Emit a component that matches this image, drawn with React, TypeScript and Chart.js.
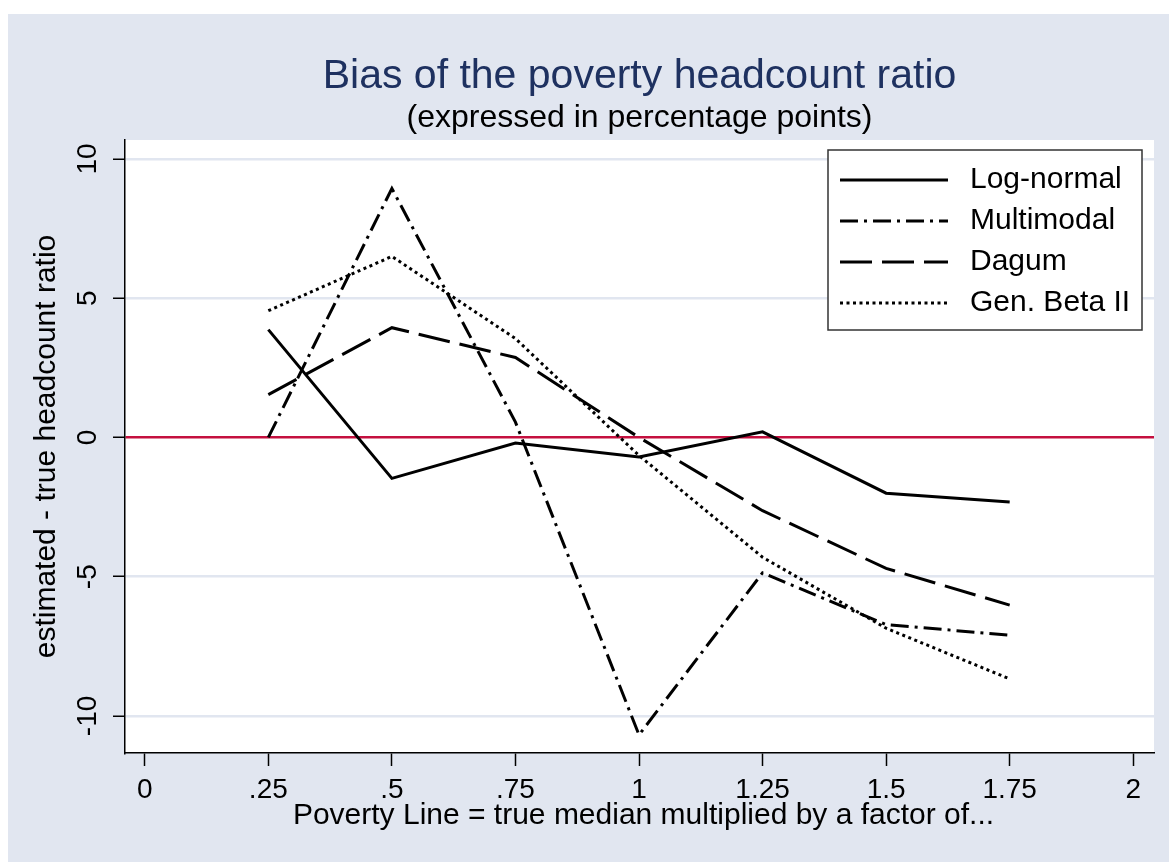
import React, { useEffect, useRef } from "react";
import { Chart, registerables } from "chart.js";

Chart.register(...registerables);

// ---------- data ----------
const titleText = "Bias of the poverty headcount ratio";
const subtitleText = "(expressed in percentage points)";
const xAxisTitle = "Poverty Line = true median multiplied by a factor of...";
const yAxisTitle = "estimated - true headcount ratio";

const povertyFactors = [0.25, 0.5, 0.75, 1, 1.25, 1.5, 1.75];
const logNormal = [3.87, -1.47, -0.2, -0.7, 0.2, -2.0, -2.32];
const multimodal = [0, 8.94, 0.55, -10.68, -4.86, -6.72, -7.1];
const dagum = [1.54, 3.94, 2.87, 0, -2.63, -4.7, -6.02];
const genBeta2 = [4.55, 6.5, 3.55, -0.65, -4.3, -6.85, -8.67];
const seriesNames = ["Log-normal", "Multimodal", "Dagum", "Gen. Beta II"];

const xTickValues = [0, 0.25, 0.5, 0.75, 1, 1.25, 1.5, 1.75, 2];
const xTickLabels = ["0", ".25", ".5", ".75", "1", "1.25", "1.5", "1.75", "2"];
const yTickValues = [-10, -5, 0, 5, 10];
const yTickLabels = ["-10", "-5", "0", "5", "10"];

// ---------- style ----------
const FONT = '"Liberation Sans", Arial, Helvetica, sans-serif';
const BG = "#e1e6f0";
const GRID = "#e1e6f0";
const RED = "#c4103f";
const NAVY = "#1e3160";
const LINE_W = 3;
const dashes: number[][] = [[], [18, 6, 3, 6], [32, 10], [3, 3.5]];

const W = 1161;
const H = 848;

const decorPlugin = {
  id: "decor",
  beforeDraw(chart: any) {
    const { ctx, chartArea: a } = chart;
    ctx.save();
    ctx.fillStyle = BG;
    ctx.fillRect(0, 0, chart.width, chart.height);
    ctx.fillStyle = "#ffffff";
    ctx.fillRect(a.left, a.top, a.right - a.left, a.bottom - a.top);
    ctx.restore();
  },
  afterDraw(chart: any) {
    const { ctx, chartArea: a } = chart;
    const cx = (a.left + a.right) / 2;
    const cy = (a.top + a.bottom) / 2;
    ctx.save();
    // titles
    ctx.textAlign = "center";
    ctx.textBaseline = "alphabetic";
    ctx.fillStyle = NAVY;
    ctx.font = `41px ${FONT}`;
    ctx.fillText(titleText, cx, 74);
    ctx.fillStyle = "#000";
    ctx.font = `32px ${FONT}`;
    ctx.fillText(subtitleText, cx, 113);

    // y tick labels (rotated)
    const ys = chart.scales.y;
    ctx.font = `28px ${FONT}`;
    ctx.textBaseline = "middle";
    yTickValues.forEach((v, i) => {
      const py = ys.getPixelForValue(v);
      ctx.save();
      ctx.translate(80, py);
      ctx.rotate(-Math.PI / 2);
      ctx.textAlign = "center";
      ctx.fillText(yTickLabels[i], 0, 0);
      ctx.restore();
    });

    // y axis title
    ctx.font = `30px ${FONT}`;
    ctx.save();
    ctx.translate(39, cy);
    ctx.rotate(-Math.PI / 2);
    ctx.textAlign = "center";
    ctx.textBaseline = "middle";
    ctx.fillText(yAxisTitle, 0, 0);
    ctx.restore();

    // x axis title
    ctx.textAlign = "center";
    ctx.textBaseline = "middle";
    ctx.fillText(xAxisTitle, cx + 4, 802);

    // legend
    const lx = 820, ly = 136, lw = 314, lh = 180;
    ctx.fillStyle = "#fff";
    ctx.fillRect(lx, ly, lw, lh);
    ctx.strokeStyle = "#333";
    ctx.lineWidth = 1.5;
    ctx.setLineDash([]);
    ctx.strokeRect(lx, ly, lw, lh);
    chart.data.datasets.forEach((ds: any, i: number) => {
      const rowY = 166 + i * 41;
      ctx.strokeStyle = ds.borderColor;
      ctx.lineWidth = ds.borderWidth;
      ctx.setLineDash(ds.borderDash || []);
      ctx.beginPath();
      ctx.moveTo(832, rowY);
      ctx.lineTo(940, rowY);
      ctx.stroke();
      ctx.setLineDash([]);
      ctx.fillStyle = "#000";
      ctx.font = `30px ${FONT}`;
      ctx.textAlign = "left";
      ctx.textBaseline = "middle";
      ctx.fillText(ds.label, 962, rowY);
    });
    ctx.restore();
  },
};

export default function App() {
  const ref = useRef<HTMLCanvasElement | null>(null);
  useEffect(() => {
    if (!ref.current) return;
    const allSeries = [logNormal, multimodal, dagum, genBeta2];
    const datasets = allSeries.map((vals, i) => ({
      label: seriesNames[i],
      data: povertyFactors.map((x, j) => ({ x, y: vals[j] })),
      borderColor: "#000",
      borderWidth: LINE_W,
      borderDash: dashes[i],
      pointRadius: 0,
      tension: 0,
      fill: false,
    }));
    const chart = new Chart(ref.current, {
      type: "line",
      data: { datasets },
      options: {
        animation: false,
        responsive: false,
        devicePixelRatio: 1,
        layout: { padding: { top: 126, right: 15, bottom: 0, left: 0 } },
        plugins: {
          legend: { display: false },
          title: { display: false },
          tooltip: { enabled: false },
        },
        scales: {
          x: {
            type: "linear",
            min: -0.04,
            max: 2.042,
            afterBuildTicks: (s: any) => {
              s.ticks = xTickValues.map((v) => ({ value: v }));
            },
            afterFit: (s: any) => {
              s.height = 109;
            },
            grid: {
              drawOnChartArea: false,
              drawTicks: true,
              tickLength: 13,
              tickColor: "#000",
              tickWidth: 1.5,
            },
            border: { display: true, color: "#000", width: 1.5 },
            ticks: {
              autoSkip: false,
              maxRotation: 0,
              minRotation: 0,
              padding: 7,
              color: "#000",
              font: { family: FONT, size: 28 },
              callback: (v: any) => {
                const k = xTickValues.indexOf(Number(v));
                return k >= 0 ? xTickLabels[k] : "";
              },
            },
          },
          y: {
            type: "linear",
            min: -11.33,
            max: 10.68,
            afterBuildTicks: (s: any) => {
              s.ticks = yTickValues.map((v) => ({ value: v }));
            },
            afterFit: (s: any) => {
              s.width = 117;
            },
            grid: {
              drawOnChartArea: true,
              drawTicks: true,
              tickLength: 12,
              tickColor: "#000",
              tickWidth: 1.5,
              color: (c: any) => (c.tick && c.tick.value === 0 ? RED : GRID),
              lineWidth: (c: any) => (c.tick && c.tick.value === 0 ? 2.5 : 2.5),
            },
            border: { display: true, color: "#000", width: 1.5 },
            ticks: { display: false },
          },
        },
      },
      plugins: [decorPlugin],
    } as any);
    return () => chart.destroy();
  }, []);

  return (
    <div
      style={{
        position: "absolute",
        left: 8,
        top: 14,
        width: W,
        height: H,
      }}
    >
      <canvas ref={ref} width={W} height={H} style={{ display: "block" }} />
    </div>
  );
}
